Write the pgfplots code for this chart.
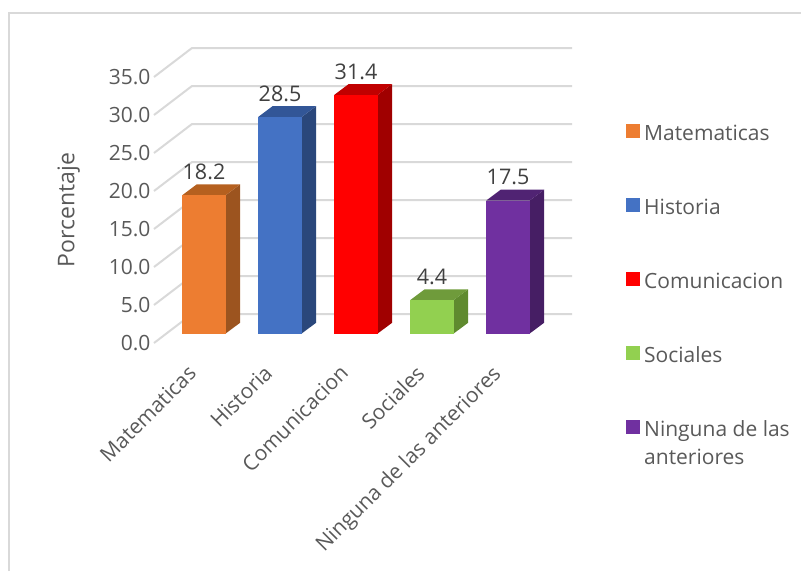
\documentclass[border=0pt]{standalone}
\usepackage{pgfplots}
\pgfplotsset{compat=1.18}
\usepackage{fontspec}
\setmainfont{Open Sans}
\definecolor{gridc}{HTML}{D9D9D9}
\definecolor{txt}{HTML}{595959}
\definecolor{lab}{HTML}{404040}
\definecolor{oF}{HTML}{ED7D31}\definecolor{oS}{HTML}{9C541F}\definecolor{oT}{HTML}{B5601F}
\definecolor{bF}{HTML}{4472C4}\definecolor{bS}{HTML}{2A477B}\definecolor{bT}{HTML}{325697}
\definecolor{rF}{HTML}{FF0000}\definecolor{rS}{HTML}{A00000}\definecolor{rT}{HTML}{C00000}
\definecolor{gF}{HTML}{92D050}\definecolor{gS}{HTML}{5F8A2F}\definecolor{gT}{HTML}{6F9B3B}
\definecolor{pF}{HTML}{7030A0}\definecolor{pS}{HTML}{461E64}\definecolor{pT}{HTML}{502373}
\pgfplotsset{
  front/.style={ybar,bar width=43.5pt,bar shift=0pt,draw=none,fill=#1,yshift=9.5pt,
    legend image code/.code={\fill[##1,draw=none] (0pt,-14pt) rectangle (14pt,0pt);\path (16pt,0pt);},
    nodes near coords,
    every node near coord/.append style={font=\fontsize{21.5}{26}\selectfont,text=lab,yshift=12pt}},
}
% side and top of a bar: #1 position, #2 value, #3 side colour, #4 top colour
\newcommand{\barfaces}[4]{
  \addplot[forget plot,draw=none,fill=#3,yshift=9.5pt] coordinates {(#1+0.286,0) (#1+0.4755,1.42) (#1+0.4755,#2+1.42) (#1+0.286,#2)} --cycle;
  \addplot[forget plot,draw=none,fill=#4,yshift=9.5pt] coordinates {(#1-0.286,#2) (#1-0.0965,#2+1.42) (#1+0.4755,#2+1.42) (#1+0.286,#2)} --cycle;
}
\begin{document}
\begin{tikzpicture}[x=1pt,y=1pt]
\path[use as bounding box] (0,0) rectangle (801,571);
\draw[gridc,line width=2pt] (9,0) -- (9,558) -- (801,558);
\begin{axis}[
  at={(154pt,228pt)},anchor=south west,
  scale only axis,width=418pt,height=266pt,
  xmin=-0.6579,xmax=4.842,ymin=0,ymax=35,
  clip=false,
  axis line style={draw=none},
  major tick length=0pt,
  xtick={0,1,2,3,4},
  xticklabels={Matematicas,Historia,Comunicacion,Sociales,Ninguna de las anteriores},
  xticklabel style={rotate=45,anchor=north east,font=\fontsize{21}{25}\selectfont,text=txt,xshift=-23.5pt,yshift=1pt},
  ytick={0,5,...,35},
  yticklabel style={font=\fontsize{21}{25}\selectfont,text=txt},
  /pgf/number format/.cd,fixed,fixed zerofill,precision=1,assume math mode=true,
  /pgfplots/.cd,
  ylabel={Porcentaje},
  ylabel style={font=\fontsize{23}{27}\selectfont,text=txt},
  ylabel shift=22pt,
  unbounded coords=jump,
  legend style={at={(1.122,0.836)},anchor=north west,draw=none,fill=none,
    font=\fontsize{21}{28}\selectfont,text=txt,row sep=53pt},
  legend cell align=left,
]
% grid: side wall and back wall, 38 px in and 29 px up
\addplot[forget plot,gridc,line width=2pt] coordinates {
  (-0.6579,0) (-0.158,3.816) (4.842,3.816) (nan,nan)
  (-0.6579,5) (-0.158,8.816) (4.842,8.816) (nan,nan)
  (-0.6579,10) (-0.158,13.816) (4.842,13.816) (nan,nan)
  (-0.6579,15) (-0.158,18.816) (4.842,18.816) (nan,nan)
  (-0.6579,20) (-0.158,23.816) (4.842,23.816) (nan,nan)
  (-0.6579,25) (-0.158,28.816) (4.842,28.816) (nan,nan)
  (-0.6579,30) (-0.158,33.816) (4.842,33.816) (nan,nan)
  (-0.6579,35) (-0.158,38.816) (4.842,38.816)
};
\barfaces{0}{18.2}{oS}{oT}
\addplot[front=oF] coordinates {(0,18.2)};
\addlegendentry{Matematicas}
\barfaces{1}{28.5}{bS}{bT}
\addplot[front=bF] coordinates {(1,28.5)};
\addlegendentry{Historia}
\barfaces{2}{31.4}{rS}{rT}
\addplot[front=rF] coordinates {(2,31.4)};
\addlegendentry{Comunicacion}
\barfaces{3}{4.4}{gS}{gT}
\addplot[front=gF] coordinates {(3,4.4)};
\addlegendentry{Sociales}
\barfaces{4}{17.5}{pS}{pT}
\addplot[front=pF] coordinates {(4,17.5)};
\addlegendentry{\vtop{\hbox{Ninguna de las}\hbox{anteriores}}}
\end{axis}
\end{tikzpicture}
\end{document}
